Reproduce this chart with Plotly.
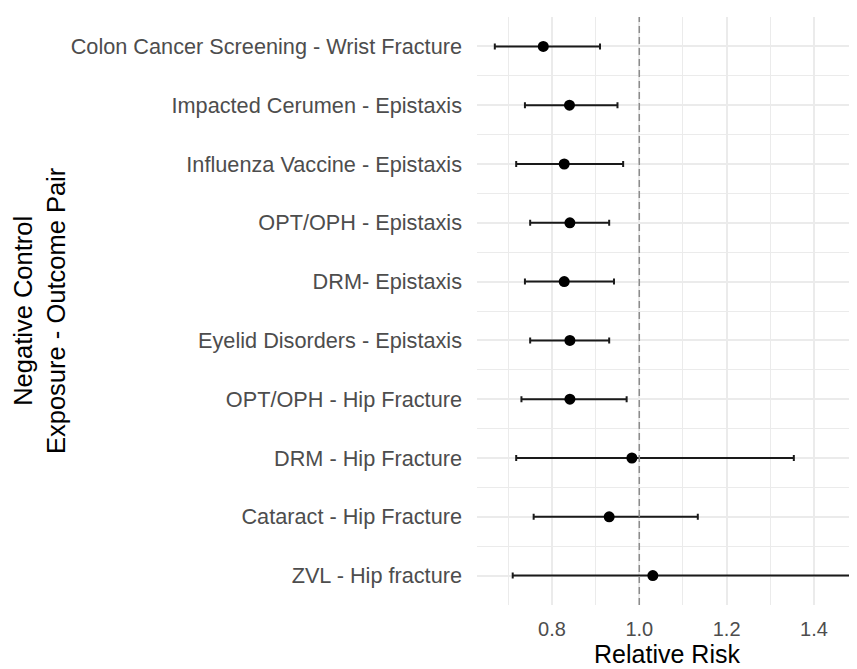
import plotly.graph_objects as go

labels = [
    "Colon Cancer Screening - Wrist Fracture",
    "Impacted Cerumen - Epistaxis",
    "Influenza Vaccine - Epistaxis",
    "OPT/OPH - Epistaxis",
    "DRM- Epistaxis",
    "Eyelid Disorders - Epistaxis",
    "OPT/OPH - Hip Fracture",
    "DRM - Hip Fracture",
    "Cataract - Hip Fracture",
    "ZVL - Hip fracture",
]
rr = [0.780, 0.840, 0.828, 0.841, 0.828, 0.841, 0.841, 0.983, 0.931, 1.031]
lower = [0.669, 0.738, 0.718, 0.750, 0.738, 0.750, 0.730, 0.718, 0.758, 0.710]
upper = [0.910, 0.950, 0.963, 0.931, 0.942, 0.931, 0.971, 1.354, 1.134, 1.484]

n = len(labels)
ypos = list(range(n, 0, -1))

fig = go.Figure()
fig.add_trace(go.Scatter(
    x=rr, y=ypos, mode="markers",
    marker=dict(color="black", size=11),
    error_x=dict(type="data", symmetric=False,
                 array=[u - r for u, r in zip(upper, rr)],
                 arrayminus=[r - l for r, l in zip(rr, lower)],
                 color="#1a1a1a", thickness=2, width=3),
    showlegend=False,
    cliponaxis=False,
))

fig.add_shape(type="line", x0=1, x1=1, xref="x", y0=0, y1=1, yref="paper",
              line=dict(color="#8c8c8c", width=1.5, dash="7px,4px"), layer="above")

# page body has an 8px margin, so the figure is sized to fill the rest of the window
fig.update_layout(
    width=849, height=661,
    margin=dict(l=469, r=0, t=9, b=64),
    plot_bgcolor="white", paper_bgcolor="white",
    font=dict(family="Liberation Sans, Arial, sans-serif"),
    xaxis=dict(range=[0.6282, 1.4987], tickvals=[0.8, 1.0, 1.2, 1.4],
               ticktext=["0.8", "1.0", "1.2", "1.4"],
               showgrid=True, gridcolor="#ebebeb", gridwidth=1.6,
               minor=dict(tickvals=[0.7, 0.9, 1.1, 1.3], showgrid=True,
                          gridcolor="#ebebeb", gridwidth=1.4),
               zeroline=False, showline=False, ticks="", automargin=False,
               ticklabelstandoff=10,
               tickfont=dict(size=20, color="#4d4d4d"),
               title=dict(text="Relative Risk", font=dict(size=25, color="black"), standoff=3)),
    yaxis=dict(range=[0.5, n + 0.5], tickvals=ypos, ticktext=labels,
               showgrid=True, gridcolor="#ebebeb", gridwidth=1.6,
               minor=dict(tickvals=[i + 0.5 for i in range(0, n + 1)], showgrid=True,
                          gridcolor="#ebebeb", gridwidth=1.4),
               zeroline=False, showline=False, ticks="", ticklabelstandoff=14,
               automargin=False,
               tickfont=dict(size=21.7, color="#4d4d4d")),
)

fig.add_annotation(text="Negative Control<br>Exposure - Outcome Pair",
                   xref="paper", yref="paper", x=(31 - 469) / 380, y=0.5,
                   xanchor="center", yanchor="middle", textangle=-90,
                   showarrow=False, font=dict(size=25.5, color="black"))

fig.write_html("out.html")
